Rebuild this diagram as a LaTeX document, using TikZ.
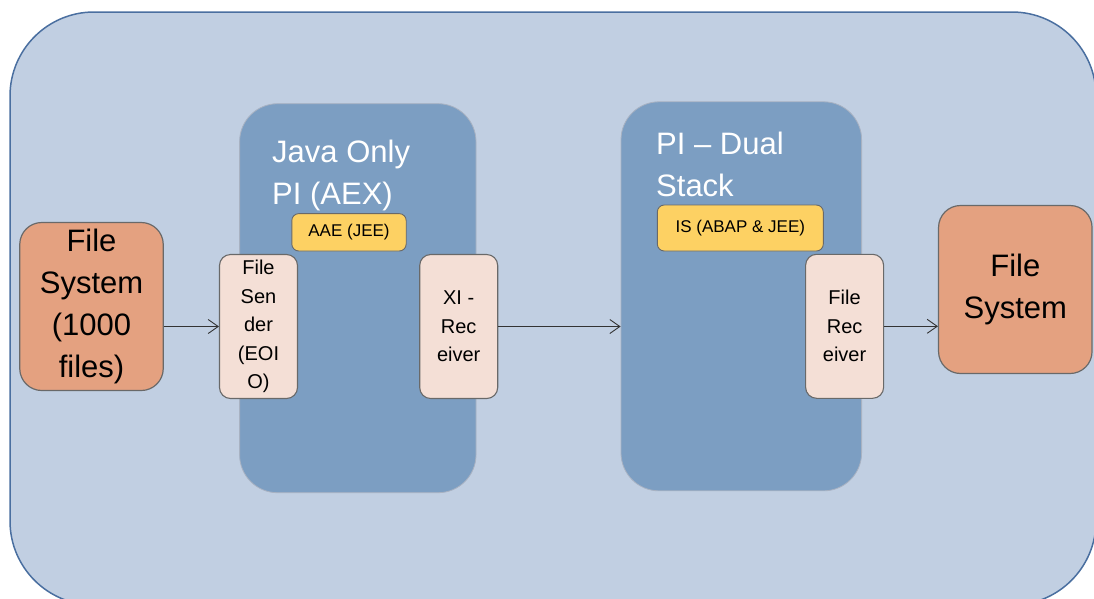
\documentclass[tikz,border=0pt]{standalone}
\usepackage{fontspec}
\setmainfont{Liberation Sans}
\usetikzlibrary{arrows.meta}
\definecolor{outerfill}{RGB}{193,207,226}
\definecolor{outerline}{RGB}{74,111,160}
\definecolor{pifill}{RGB}{124,158,194}
\definecolor{piline}{RGB}{168,178,194}
\definecolor{fsfill}{RGB}{228,161,128}
\definecolor{adfill}{RGB}{244,223,214}
\definecolor{grayline}{RGB}{105,105,105}
\definecolor{yelfill}{RGB}{253,209,99}
\newcommand\fsBigFont{\fontsize{31}{42}\selectfont}
\newcommand\fsMidFont{\fontsize{20}{28.5}\selectfont}
\newcommand\fsSmallFont{\fontsize{17}{20}\selectfont}
\begin{document}
\begin{tikzpicture}[x=1pt,y=-1pt,
  outerbox/.style={fill=outerfill, draw=outerline, line width=1.5pt, rounded corners=84pt},
  pibox/.style={fill=pifill, draw=piline, line width=0.8pt, rounded corners=38pt, inner sep=0pt},
  pititle/.style={text=white, font=\fsBigFont, inner sep=0pt, anchor=base west},
  fsbox/.style={fill=fsfill, draw=grayline, line width=1.2pt, rounded corners=22pt, align=center, font=\fsBigFont, inner sep=0pt},
  adbox/.style={fill=adfill, draw=grayline, line width=1.1pt, rounded corners=11pt, align=center, font=\fsMidFont, inner sep=0pt, minimum width=78pt, minimum height=144pt},
  engbox/.style={fill=yelfill, draw=grayline, line width=0.9pt, rounded corners=7pt, font=\fsSmallFont, inner sep=0pt},
  conn/.style={draw=black!80, line width=0.9pt, -{Straight Barb[length=10pt,width=14pt]}}
]
\useasboundingbox (0,0) rectangle (1094,598);
\path[outerbox] (10,12) rectangle (1096,605);

% PI systems
\node[pibox, minimum width=236.4pt, minimum height=389pt] (java) at (357.8,298.2) {};
\node[pibox, minimum width=240.6pt, minimum height=389pt] (dual) at (741.3,296.3) {};
\node[pititle] (javaA) at (272,162) {Java Only};
\node[pititle] (javaB) at (272,204) {PI (AEX)};
\node[pititle] (dualA) at (656,154.5) {PI – Dual};
\node[pititle] (dualB) at (656,196) {Stack};

% engines
\node[engbox, minimum width=114.4pt, minimum height=37.4pt] (aae) at (349,232.3) {AAE (JEE)};
\node[engbox, minimum width=166pt, minimum height=46pt] (is) at (740.3,228) {IS (ABAP \& JEE)};

% adapters
\node[adbox] (sender) at (258.5,326.5) {File\\Sen\\der\\(EOI\\O)};
\node[adbox] (xirec) at (458.7,326.5) {XI -\\Rec\\eiver};
\node[adbox] (frec) at (844.6,326.3) {File\\Rec\\eiver};

% file systems
\node[fsbox, minimum width=143.5pt, minimum height=168pt] (fsA) at (91.5,306.5) {File\\System\\(1000\\files)};
\node[fsbox, minimum width=153.5pt, minimum height=168pt] (fsB) at (1015.3,289.5) {File\\System};

% connectors
\draw[conn] (fsA.east |- sender.west) -- (sender.west);
\draw[conn] (xirec.east) -- (xirec.east -| dual.west);
\draw[conn] (frec.east) -- (frec.east -| fsB.west);
\end{tikzpicture}
\end{document}
